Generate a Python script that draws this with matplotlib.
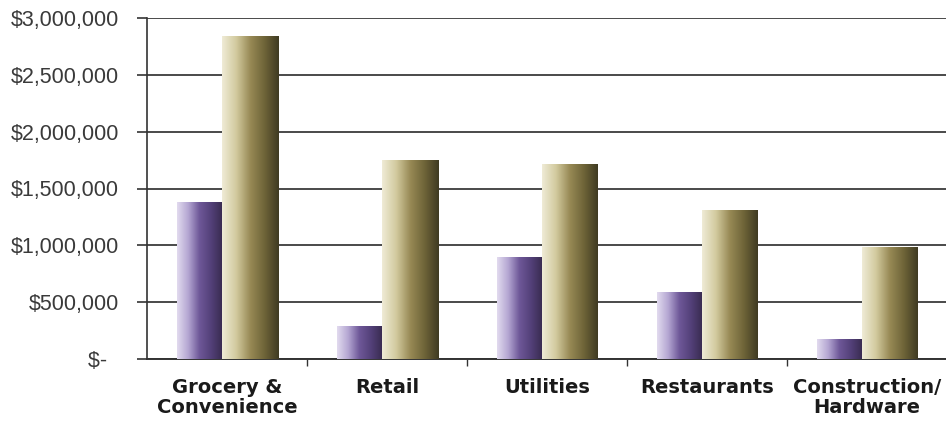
import numpy as np
import matplotlib.pyplot as plt
from matplotlib.colors import LinearSegmentedColormap

plt.rcParams['font.family'] = ['Liberation Sans', 'DejaVu Sans']

categories = ['Grocery &\nConvenience', 'Retail', 'Utilities', 'Restaurants', 'Construction/\nHardware']
series_a = [1380000, 290000, 897000, 589000, 173000]
series_b = [2845000, 1751000, 1716000, 1311000, 988000]
ytick_vals = [0, 500000, 1000000, 1500000, 2000000, 2500000, 3000000]
ytick_labels = ['$-  ', '$500,000', '$1,000,000', '$1,500,000', '$2,000,000', '$2,500,000', '$3,000,000']

purple = LinearSegmentedColormap.from_list(
    'purple', ['#e2dbef', '#b4a6d2', '#6e5898', '#54417a', '#3a2c52'])
olive = LinearSegmentedColormap.from_list(
    'olive', ['#efebd6', '#d2ca9e', '#978955', '#6e6438', '#3f3a22'])

fig = plt.figure(figsize=(9.46, 4.22), dpi=100)
ax = fig.add_axes([147 / 946, 1 - 359 / 422, 800 / 946, 341 / 422])

x = np.arange(len(categories))
w_a, w_b = 0.28, 0.35
off = -0.031

bars_a = ax.bar(x + off - w_a / 2, series_a, w_a, color='none', zorder=3)
bars_b = ax.bar(x + off + w_b / 2, series_b, w_b, color='none', zorder=3)

# horizontal shading inside each bar
grad = np.linspace(0, 1, 256).reshape(1, -1)
for bars, cmap in ((bars_a, purple), (bars_b, olive)):
    for b in bars:
        x0, y0 = b.get_x(), b.get_y()
        im = ax.imshow(grad, cmap=cmap, aspect='auto', zorder=3,
                       extent=[x0, x0 + b.get_width(), y0, y0 + b.get_height()])
        im.set_clip_path(b)

ax.set_xlim(-0.5, 4.5)
ax.set_ylim(0, 3000000)

ax.yaxis.grid(True, color='#4a4a4a', linewidth=1.4, zorder=0)
ax.set_axisbelow(True)

ax.set_yticks(ytick_vals)
ax.set_yticklabels(ytick_labels, fontsize=15.5, color='#3a3a3a')
ax.yaxis.set_tick_params(length=7, width=1.2, color='#333333', pad=13)

ax.set_xticks(x)
ax.set_xticklabels(categories, fontsize=14, fontweight='bold', color='#1a1a1a',
                   family='DejaVu Sans', linespacing=1.05)
ax.set_xticks(np.arange(0.5, 4.5, 1), minor=True)
ax.tick_params(axis='x', which='major', length=0, pad=14)
ax.tick_params(axis='x', which='minor', length=5, width=1, color='#333333')

for s in ('top', 'right'):
    ax.spines[s].set_visible(False)
ax.spines['left'].set_color('#333333')
ax.spines['left'].set_linewidth(1.2)
ax.spines['bottom'].set_color('#333333')
ax.spines['bottom'].set_linewidth(1.4)

fig.savefig('out.png', dpi=100)
